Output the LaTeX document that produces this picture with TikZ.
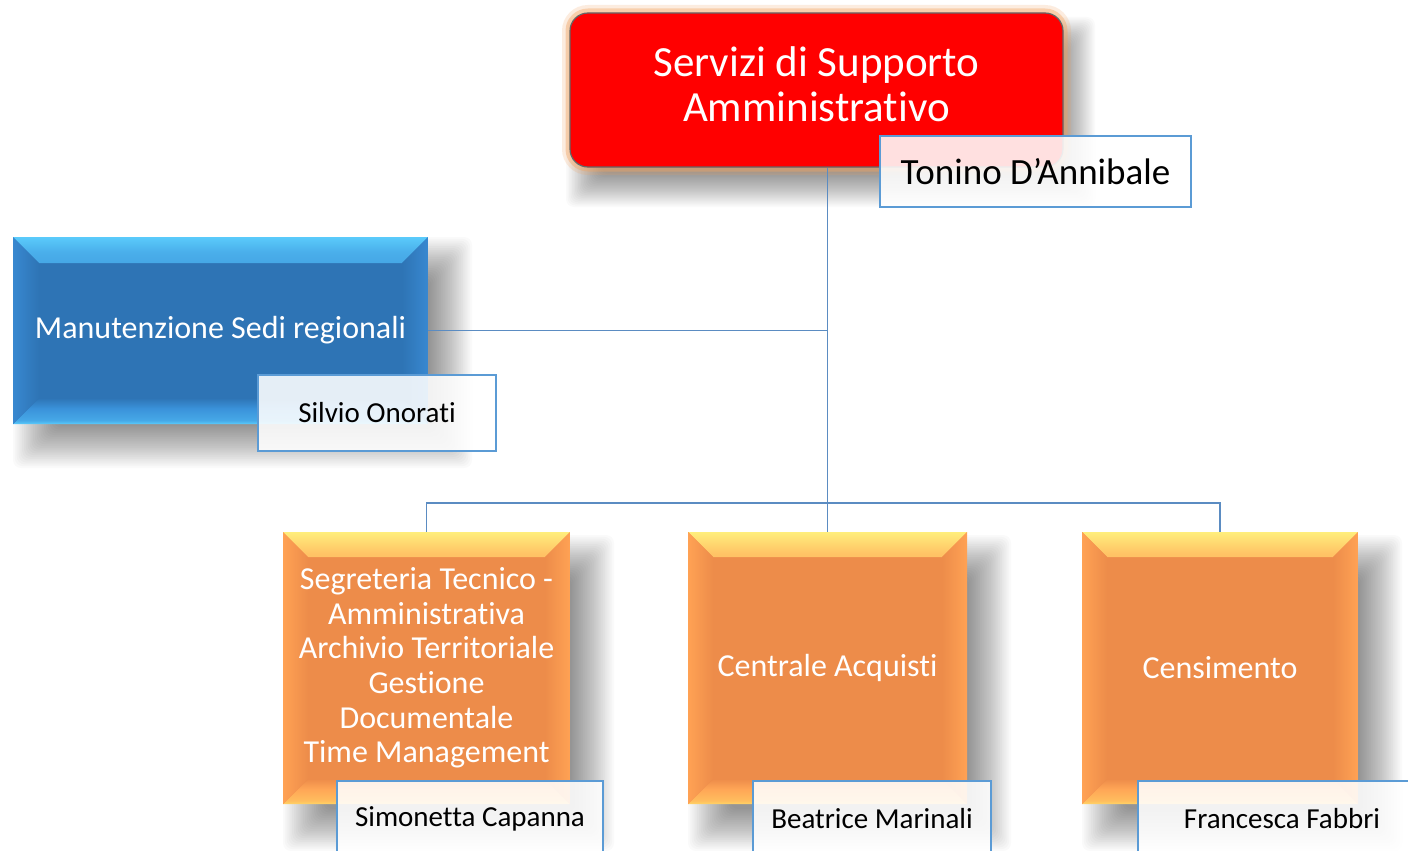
\documentclass[tikz,border=0pt]{standalone}
\usepackage{fontspec}
\setmainfont{Carlito}[Ligatures={NoCommon}]
\usetikzlibrary{calc}
\definecolor{redfill}{HTML}{FF0000}
\definecolor{bluefill}{HTML}{2E74B5}
\definecolor{orangefill}{HTML}{ED8C4A}
\definecolor{linkblue}{HTML}{5B8CC2}
\definecolor{namebord}{HTML}{5B9BD5}
\definecolor{glow}{HTML}{F4A460}
\definecolor{bSide}{HTML}{3888D0}
\definecolor{bMid}{HTML}{3A92DA}
\definecolor{bEdge}{HTML}{5ACBFB}
\definecolor{oSide}{HTML}{FFA254}
\definecolor{oMid}{HTML}{FFA656}
\definecolor{oEdge}{HTML}{FFEE7C}
\definecolor{oBotEdge}{HTML}{FFD466}
\pgfdeclareverticalshading{otopsh}{100bp}{color(0bp)=(orangefill); color(25bp)=(orangefill); color(32bp)=(oMid!70!orangefill); color(60bp)=(oMid); color(71bp)=(oMid!60!oEdge); color(75bp)=(oEdge); color(100bp)=(oEdge)}
\pgfdeclareverticalshading{obotsh}{100bp}{color(0bp)=(oBotEdge); color(25bp)=(oBotEdge); color(32bp)=(oBotEdge!50!oMid); color(55bp)=(oMid); color(75bp)=(orangefill); color(100bp)=(orangefill)}
\pgfdeclareverticalshading{btopsh}{100bp}{color(0bp)=(bluefill); color(25bp)=(bluefill); color(32bp)=(bMid!70!bluefill); color(60bp)=(bMid); color(71bp)=(bMid!50!bEdge); color(75bp)=(bEdge); color(100bp)=(bEdge)}
\pgfdeclareverticalshading{bbotsh}{100bp}{color(0bp)=(bEdge); color(25bp)=(bEdge); color(32bp)=(bEdge!40!bMid); color(55bp)=(bMid); color(75bp)=(bluefill); color(100bp)=(bluefill)}
\newcommand\softshadow[6]{%
  \foreach \k in {0,...,23}{%
    \fill[black,opacity=#6,rounded corners=8pt] (#1-#5+\k*#5/12, #2-#5+\k*#5/12) rectangle (#3+#5-\k*#5/12, #4+#5-\k*#5/12);
  }}
\tikzset{
  bevel/.style n args={5}{path picture={
    \shade[shading=#2] (path picture bounding box.north west) -- (path picture bounding box.north east) -- ([xshift=-#1pt,yshift=-#1pt]path picture bounding box.north east) -- ([xshift=#1pt,yshift=-#1pt]path picture bounding box.north west) -- cycle;
    \shade[shading=#3] (path picture bounding box.south west) -- (path picture bounding box.south east) -- ([xshift=-#1pt,yshift=#1pt]path picture bounding box.south east) -- ([xshift=#1pt,yshift=#1pt]path picture bounding box.south west) -- cycle;
    \shade[left color=#4, right color=#5] (path picture bounding box.north west) -- ([xshift=#1pt,yshift=-#1pt]path picture bounding box.north west) -- ([xshift=#1pt,yshift=#1pt]path picture bounding box.south west) -- (path picture bounding box.south west) -- cycle;
    \shade[right color=#4, left color=#5] (path picture bounding box.north east) -- ([xshift=-#1pt,yshift=-#1pt]path picture bounding box.north east) -- ([xshift=-#1pt,yshift=#1pt]path picture bounding box.south east) -- (path picture bounding box.south east) -- cycle;
  }},
  redbox/.style={rounded corners=18pt, fill=redfill, draw=gray!80!black, line width=1.2pt,
    preaction={draw=glow, line width=16pt, opacity=0.2},
    preaction={draw=glow, line width=9pt, opacity=0.4},
    inner sep=0pt},
  redtext/.style={text=white, align=center, inner sep=0pt, font=\fontsize{43}{45}\selectfont},
  bluebox/.style={fill=bluefill, inner sep=0pt, text=white, align=center,
    bevel={26}{btopsh}{bbotsh}{bSide}{bluefill}, font=\fontsize{32}{36}\selectfont},
  orangebox/.style={fill=orangefill, inner sep=0pt, text=white, align=center,
    bevel={25}{otopsh}{obotsh}{oSide}{orangefill}, font=\fontsize{32}{34.6}\selectfont},
  namebox/.style={draw=namebord, line width=2pt, fill=white, fill opacity=0.88, text opacity=1,
    text=black, inner sep=0pt, align=center},
  link/.style={draw=linkblue, line width=1.3pt}
}
\begin{document}
\begin{tikzpicture}[x=1pt,y=-1pt]
\clip (0,0) rectangle (1408,851);
\fill[white] (0,0) rectangle (1408,851);
% shadows
\softshadow{584}{35}{1077}{189}{18}{0.018}
\softshadow{35}{259}{450}{446}{22}{0.018}
\softshadow{305}{557}{592}{829}{22}{0.018}
\softshadow{710}{557}{989}{829}{22}{0.018}
\softshadow{1104}{557}{1380}{829}{22}{0.018}
% main boxes
\node[redbox, minimum width=493pt, minimum height=154pt] (red) at (816.5,90) {};
\node[redtext] (redtxt) at (816.5,84) {Servizi di Supporto\\Amministrativo};
\node[bluebox, minimum width=415pt, minimum height=187pt] (blue) at (220.5,330.5) {Manutenzione Sedi regionali};
\node[orangebox, minimum width=287pt, minimum height=272pt] (o1) at (426.5,668) {Segreteria Tecnico -\\Amministrativa\\Archivio Territoriale\\Gestione\\Documentale\\Time Management};
\node[orangebox, minimum width=279pt, minimum height=272pt] (o2) at (827.5,668) {Centrale Acquisti};
\node[orangebox, minimum width=276pt, minimum height=272pt] (o3) at (1220,668) {Censimento};
% connectors
\coordinate (bus) at (828,503);
\draw[link] (red.south -| o2.north) -- (o2.north);
\draw[link] (blue.east) -- (blue.east -| o2.north);
\draw[link] (o1.north) -- (o1.north |- bus) -- (o3.north |- bus) -- (o3.north);
% name boxes
\node[namebox, minimum width=311pt, minimum height=71pt, font=\fontsize{37}{40}\selectfont] (n0) at (1035.5,171.5) {Tonino D’Annibale};
\node[namebox, minimum width=238pt, minimum height=76pt, font=\fontsize{29}{32}\selectfont] (n1) at (377,413) {Silvio Onorati};
\node[namebox, minimum width=266pt, minimum height=76pt, font=\fontsize{29}{32}\selectfont] (n2) at (470,819) {Simonetta Capanna};
\node[namebox, minimum width=238pt, minimum height=76pt, font=\fontsize{29}{32}\selectfont] (n3) at (872,819) {Beatrice Marinali};
\node[namebox, minimum width=288pt, minimum height=76pt, font=\fontsize{29}{32}\selectfont] (n4) at (1282,819) {Francesca Fabbri};
\end{tikzpicture}
\end{document}
